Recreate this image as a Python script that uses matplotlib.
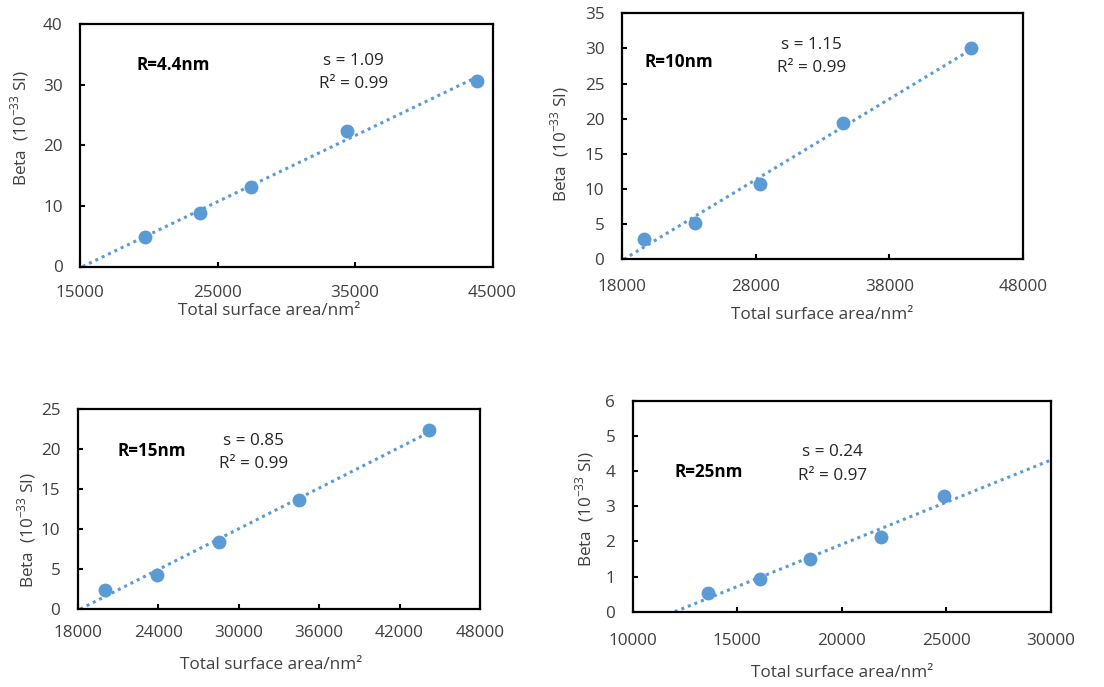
import numpy as np
import matplotlib
matplotlib.use("Agg")
import matplotlib.pyplot as plt

plt.rcParams['font.family'] = ['Open Sans', 'DejaVu Sans']
plt.rcParams['mathtext.fontset'] = 'custom'
plt.rcParams['mathtext.rm'] = 'Open Sans'
plt.rcParams['axes.unicode_minus'] = True

# ---- data -------------------------------------------------------------
radius_labels = ["R=4.4nm", "R=10nm", "R=15nm", "R=25nm"]

area_r44 = [19700, 23700, 27400, 34400, 43900]
beta_r44 = [4.9, 8.8, 13.1, 22.3, 30.6]

area_r10 = [19700, 23500, 28300, 34500, 44100]
beta_r10 = [2.9, 5.2, 10.7, 19.4, 30.0]

area_r15 = [20000, 23900, 28500, 34500, 44200]
beta_r15 = [2.4, 4.3, 8.4, 13.6, 22.4]

area_r25 = [13600, 16100, 18500, 21900, 24900]
beta_r25 = [0.52, 0.92, 1.5, 2.14, 3.3]

# fitted slope (per 1000 nm^2) and coefficient of determination
slopes = [1.09, 1.15, 0.85, 0.24]
r_squared = [0.99, 0.99, 0.99, 0.97]

xticks_r44 = [15000, 25000, 35000, 45000]
xticks_r10 = [18000, 28000, 38000, 48000]
xticks_r15 = [18000, 24000, 30000, 36000, 42000, 48000]
xticks_r25 = [10000, 15000, 20000, 25000, 30000]

yticks_r44 = [0, 10, 20, 30, 40]
yticks_r10 = [0, 5, 10, 15, 20, 25, 30, 35]
yticks_r15 = [0, 5, 10, 15, 20, 25]
yticks_r25 = [0, 1, 2, 3, 4, 5, 6]

# ---- layout -----------------------------------------------------------
W, H = 1104, 687
fig = plt.figure(figsize=(W / 100, H / 100), dpi=100)
fig.patch.set_facecolor("white")


def rect(l, t, r, b):
    return [l / W, 1 - b / H, (r - l) / W, (b - t) / H]


panels = [
    dict(rect=rect(80, 24, 492.5, 266.5), x=area_r44, y=beta_r44,
         xt=xticks_r44, yt=yticks_r44, extend_to_edge=False,
         ylab=(-0.1455, 0.571), xlab=(0.458, -0.182),
         name=(0.138, 0.831), stat=(0.662, 0.847, 0.753), xpad=13.0),
    dict(rect=rect(621.7, 13.3, 1023.3, 259.3), x=area_r10, y=beta_r10,
         xt=xticks_r10, yt=yticks_r10, extend_to_edge=False,
         ylab=(-0.1536, 0.469), xlab=(0.499, -0.226),
         name=(0.058, 0.802), stat=(0.473, 0.871, 0.778), xpad=14.5),
    dict(rect=rect(77.7, 409.3, 480, 609), x=area_r15, y=beta_r15,
         xt=xticks_r15, yt=yticks_r15, extend_to_edge=False,
         ylab=(-0.126, 0.396), xlab=(0.48, -0.280),
         name=(0.098, 0.791), stat=(0.436, 0.841, 0.726), xpad=11.5),
    dict(rect=rect(632.7, 401, 1050.7, 611.7), x=area_r25, y=beta_r25,
         xt=xticks_r25, yt=yticks_r25, extend_to_edge=True,
         ylab=(-0.114, 0.487), xlab=(0.5, -0.291),
         name=(0.099, 0.663), stat=(0.4785, 0.758, 0.644), xpad=15.0),
]

point_color = "#5B9BD5"
text_color = "#404040"
fs = 12.3
ylabel_text = r"Beta  (10$^{\mathregular{-33}}$ SI)"
xlabel_text = "Total surface area/nm²"

for i, p in enumerate(panels):
    ax = fig.add_axes(p["rect"])
    x = np.asarray(p["x"], float)
    y = np.asarray(p["y"], float)
    xmin, xmax = p["xt"][0], p["xt"][-1]
    ymin, ymax = p["yt"][0], p["yt"][-1]

    # linear trend line with the stated slope, through the data centroid,
    # extended back to where it meets zero
    k = slopes[i] / 1000.0
    b = y.mean() - k * x.mean()
    x0 = max(-b / k, xmin)
    x1 = xmax if p["extend_to_edge"] else x.max()
    xs = np.array([x0, x1])
    ax.plot(xs, k * xs + b, color=point_color, lw=2.2,
            linestyle=(0, (1, 1.3)), zorder=2, clip_on=True)
    ax.plot(x, y, "o", color=point_color, markersize=10,
            markeredgewidth=0, zorder=3)

    ax.set_xlim(xmin, xmax)
    ax.set_ylim(ymin, ymax)
    ax.set_xticks(p["xt"], labels=[str(v) for v in p["xt"]])
    ax.set_yticks(p["yt"], labels=[str(v) for v in p["yt"]])
    ax.tick_params(axis="both", direction="in", length=3.5, width=1.5,
                   labelsize=fs, labelcolor=text_color, color="black")
    ax.tick_params(axis="x", pad=p["xpad"])
    ax.tick_params(axis="y", pad=12.5)
    for s in ax.spines.values():
        s.set_linewidth(1.6)
        s.set_color("black")

    ax.set_ylabel(ylabel_text, fontsize=fs, color=text_color,
                  va="center", ha="center")
    ax.yaxis.set_label_coords(*p["ylab"])
    ax.set_xlabel(xlabel_text, fontsize=fs, color=text_color,
                  va="center", ha="center")
    ax.xaxis.set_label_coords(*p["xlab"])

    ax.text(p["name"][0], p["name"][1], radius_labels[i],
            transform=ax.transAxes, fontsize=fs, fontweight="bold",
            color="black", ha="left", va="center")
    sx, sy1, sy2 = p["stat"]
    ax.text(sx, sy1, f"s = {slopes[i]:.2f}", transform=ax.transAxes,
            fontsize=fs, color="#262626", ha="center", va="center")
    ax.text(sx, sy2, f"R² = {r_squared[i]:.2f}", transform=ax.transAxes,
            fontsize=fs, color="#262626", ha="center", va="center")

fig.savefig("out.png", dpi=100, facecolor="white")
